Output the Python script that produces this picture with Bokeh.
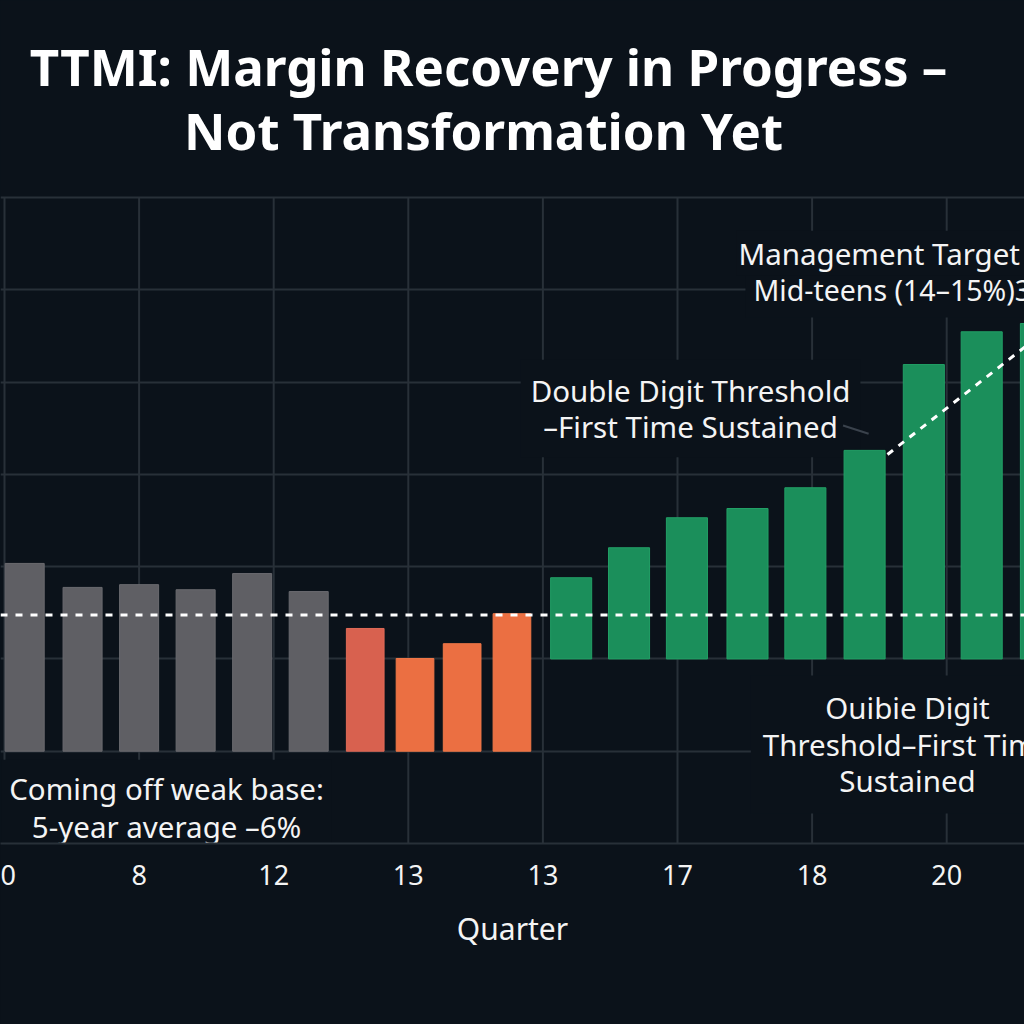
from bokeh.plotting import figure
from bokeh.models import Range1d, FixedTicker, Span, ColumnDataSource
from bokeh.core.properties import value
from bokeh.embed import file_html
from bokeh.resources import INLINE

BG = "#0b121a"
GRID = "#283038"
FONT = "Noto Sans"
TXT = "#f4f4f4"

# ---- data ----
quarter_pos = [0.15, 0.58, 1.00, 1.42, 1.84, 2.26,
               2.68, 3.05, 3.40, 3.77,
               4.21, 4.64, 5.07, 5.52, 5.95, 6.39, 6.83, 7.26, 7.70]
margin_top = [6.07, 5.55, 5.61, 5.50, 5.85, 5.46,
              4.66, 4.01, 4.33, 4.98,
              5.76, 6.41, 7.06, 7.26, 7.71, 8.52, 10.38, 11.09, 11.27]
bar_base = [2.0] * 10 + [4.0] * 9
phase = ["base"] * 6 + ["trough"] + ["rebound"] * 3 + ["recovery"] * 9
phase_color = {"base": "#5f5f64", "trough": "#d8614f",
               "rebound": "#eb6f42", "recovery": "#1b8f5b"}
phase_edge = {"base": "#6a6a6f", "trough": "#e06a57",
              "rebound": "#f07848", "recovery": "#22a066"}
phase_width = {"base": 0.29, "trough": 0.28, "rebound": 0.28, "recovery": 0.305}

tick_pos = [0, 1, 2, 3, 4, 5, 6, 7]
tick_labels = ["0", "8", "12", "13", "13", "17", "18", "20"]
ygrid_levels = [0, 2, 4, 6, 8, 10, 12, 14]
grid_top = 14

avg_level = 4.95
target_line_x = [6.56, 7.62]
target_line_y = [8.43, 10.85]
leader_x = [6.23, 6.42]
leader_y = [9.06, 8.88]

title_lines = ["TTMI: Margin Recovery in Progress \u2013", "Not Transformation Yet"]

src = ColumnDataSource(dict(
    x=quarter_pos, top=margin_top, bottom=bar_base,
    color=[phase_color[k] for k in phase],
    edge=[phase_edge[k] for k in phase],
    w=[phase_width[k] for k in phase],
))

p = figure(width=1024, height=1024,
           x_range=Range1d(-0.0297, 7.578), y_range=Range1d(0, 18.27),
           output_backend="svg", toolbar_location=None,
           min_border_left=0, min_border_right=0,
           min_border_top=0, min_border_bottom=181,
           background_fill_color=BG, border_fill_color=BG,
           outline_line_color=None)

p.yaxis.visible = False
p.xgrid.visible = False
p.ygrid.ticker = FixedTicker(ticks=ygrid_levels)
p.ygrid.grid_line_color = GRID
p.ygrid.grid_line_width = 2

# vertical grid lines limited to the plotting band
p.segment(x0=tick_pos, y0=[0] * len(tick_pos), x1=tick_pos, y1=[grid_top] * len(tick_pos),
          line_color=GRID, line_width=2)

ax = p.xaxis[0]
ax.ticker = FixedTicker(ticks=tick_pos)
ax.major_label_overrides = {t: lab for t, lab in zip(tick_pos, tick_labels)}
ax.axis_line_color = GRID
ax.axis_line_width = 2
ax.major_tick_line_color = None
ax.minor_tick_line_color = None
ax.major_label_text_color = TXT
ax.major_label_text_font = FONT
ax.major_label_text_font_size = "27px"
ax.major_label_standoff = 15
ax.axis_label = "Quarter"
ax.axis_label_text_color = TXT
ax.axis_label_text_font = FONT
ax.axis_label_text_font_size = "30px"
ax.axis_label_text_font_style = "normal"
ax.axis_label_standoff = 20

txt = dict(text_font=value(FONT), text_color=TXT, background_fill_color=BG)

p.text(x=[5.097], y=[9.43], text=["Double Digit Threshold\n\u2013First Time Sustained"],
       text_align="center", text_baseline="middle", line_height=0.89,
       padding=10, text_font_size="29.5px", **txt)
p.text(x=[1.204], y=[0.78], text=["Coming off weak base:\n5-year average \u20136%"],
       text_align="center", text_baseline="middle", line_height=0.94,
       padding=8, text_font_size="29.5px", **txt)
p.text(x=[6.709], y=[2.146], text=["Ouibie Digit\nThreshold\u2013First Time\nSustained"],
       text_align="center", text_baseline="middle", line_height=0.89,
       padding=12, text_font_size="29.5px", **txt)
p.text(x=[5.505], y=[11.985], text=["Mid-teens (14\u201315%)3"],
       text_align="left", text_baseline="middle", padding=8,
       text_font_size="28.5px", **txt)
p.text(x=[5.438], y=[12.79], text=["Management Target"],
       text_align="left", text_baseline="middle", padding=2,
       text_font_size="29.5px", **txt)

# bars drawn after the label boxes so the boxes never clip a bar
p.vbar(x="x", width="w", bottom="bottom", top="top",
       fill_color="color", line_color="edge", line_width=1, source=src)

p.add_layout(Span(location=avg_level, dimension="width", line_color="white",
                  line_width=3, line_dash="7 8"))

p.line(target_line_x, target_line_y, line_color="white", line_width=3, line_dash="7 7")
p.line(leader_x, leader_y, line_color="#3a424c", line_width=2)

# two-line title
p.text(x=[3.596, 3.559], y=[16.84, 15.47], text=title_lines,
       text_font=value(FONT), text_font_size="51px", text_font_style="bold",
       text_color="white", text_align="center", text_baseline="middle")

html = file_html(p, INLINE)
html = html.replace("<head>", "<head><style>html,body{background:#0b121a;}</style>", 1)
open("out.html", "w").write(html)
